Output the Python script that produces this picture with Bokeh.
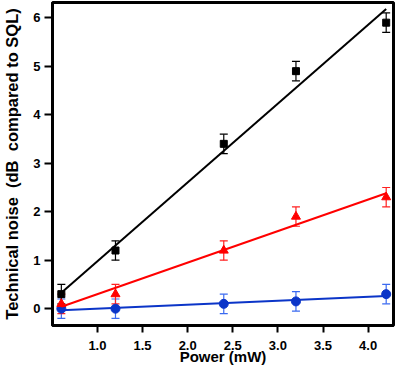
from bokeh.plotting import figure
from bokeh.models import ColumnDataSource, Whisker, TeeHead, Range1d, FixedTicker
from bokeh.embed import file_html
from bokeh.resources import INLINE

power = [0.6, 1.2, 2.4, 3.2, 4.2]
black_y = [0.3, 1.2, 3.4, 4.9, 5.9]
black_err = [0.2, 0.2, 0.2, 0.2, 0.2]
red_y = [0.1, 0.3, 1.2, 1.9, 2.3]
red_err = [0.2, 0.2, 0.2, 0.2, 0.2]
blue_y = [0.0, 0.0, 0.1, 0.15, 0.3]
blue_err = [0.2, 0.2, 0.2, 0.2, 0.2]
fit_x = [0.6, 4.2]
black_fit = [0.33, 6.18]
red_fit = [0.04, 2.38]
blue_fit = [-0.03, 0.26]
x_ticks = [1.0, 1.5, 2.0, 2.5, 3.0, 3.5, 4.0]
y_ticks = [0, 1, 2, 3, 4, 5, 6]

FONT = "Liberation Sans"

p = figure(width=399, height=367, output_backend="svg", toolbar_location=None,
           x_range=Range1d(0.502, 4.281), y_range=Range1d(-0.347, 6.316),
           min_border_left=47, min_border_right=6, min_border_top=2, min_border_bottom=0)
p.grid.visible = False
p.outline_line_color = "black"
p.outline_line_width = 3
p.background_fill_color = "white"

for ax in (p.xaxis[0], p.yaxis[0]):
    ax.axis_line_width = 3
    ax.axis_line_color = "black"
    ax.major_tick_line_width = 2
    ax.major_tick_in = 0
    ax.minor_tick_out = 0
    ax.minor_tick_in = 0
    ax.major_label_text_font = FONT
    ax.major_label_text_font_style = "bold"
    ax.major_label_text_font_size = "13px"
    ax.major_label_text_color = "black"
    ax.axis_label_text_font = FONT
    ax.axis_label_text_font_style = "bold"
    ax.axis_label_text_color = "black"

p.xaxis.major_tick_out = 7
p.yaxis.major_tick_out = 8
p.xaxis.axis_label_text_font_size = "15px"
p.yaxis.axis_label_text_font_size = "16.5px"
p.xaxis.ticker = FixedTicker(ticks=x_ticks)
p.yaxis.ticker = FixedTicker(ticks=y_ticks)
p.xaxis.major_label_overrides = {v: f"{v:.1f}" for v in x_ticks}
p.xaxis.axis_label = "Power (mW)"
p.yaxis.axis_label = "Technical noise \u00a0(dB \u00a0compared to SQL)"
p.xaxis.axis_label_standoff = -5
p.yaxis.axis_label_standoff = 9
p.xaxis.major_label_standoff = 8
p.yaxis.major_label_standoff = 4

series = [
    (blue_y, blue_err, blue_fit, "#0b35c8", "#3a6af0", "circle", 9),
    (red_y, red_err, red_fit, "#ff0000", "#ff2020", "triangle", 9),
    (black_y, black_err, black_fit, "black", "black", "square", 7),
]
for ys, errs, fit, col, ecol, marker, size in series:
    src = ColumnDataSource(dict(x=power, y=ys,
                                upper=[a + b for a, b in zip(ys, errs)],
                                lower=[a - b for a, b in zip(ys, errs)]))
    p.line(fit_x, fit, line_color=col, line_width=2)
    w = Whisker(source=src, base="x", upper="upper", lower="lower",
                line_color=ecol, line_width=1.2,
                upper_head=TeeHead(size=8, line_color=ecol, line_width=1.2),
                lower_head=TeeHead(size=8, line_color=ecol, line_width=1.2))
    p.add_layout(w)
    p.scatter("x", "y", source=src, marker=marker, size=size,
              fill_color=col, line_color=col)

open("out.html", "w").write(file_html(p, INLINE))
